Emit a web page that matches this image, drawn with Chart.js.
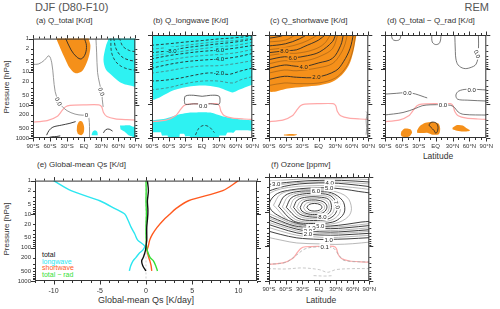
<!DOCTYPE html>
<html>
<head>
<meta charset="utf-8">
<script src="https://cdn.jsdelivr.net/npm/chart.js@4.4.0/dist/chart.umd.min.js"></script>
<style>
body { margin:0; background:#fff; width:500px; height:309px; overflow:hidden; position:relative; font-family:'Liberation Sans', Arial, sans-serif; }
canvas { position:absolute; }
.t { position:absolute; white-space:nowrap; color:#333; line-height:1; }
.c { transform:translate(-50%,-50%); }
.v { transform:translate(-50%,-50%) rotate(-90deg); }
</style>
</head>
<body>
<div class="t" style="left:35px;top:2px;font-size:11px;color:#555">DJF (D80-F10)</div>
<div class="t" style="right:11px;top:2px;font-size:11px;color:#555">REM</div>
<div class="t" style="left:36px;top:17px;font-size:8px">(a) Q_total [K/d]</div>
<div class="t" style="left:153px;top:17px;font-size:8px">(b) Q_longwave [K/d]</div>
<div class="t" style="left:270px;top:17px;font-size:8px">(c) Q_shortwave [K/d]</div>
<div class="t" style="left:387px;top:17px;font-size:8px">(d) Q_total − Q_rad [K/d]</div>
<div class="t" style="left:37px;top:161px;font-size:8px">(e) Global-mean Qs [K/d]</div>
<div class="t" style="left:271px;top:161px;font-size:8px">(f) Ozone [ppmv]</div>
<div class="t v" style="left:7px;top:87px;font-size:8px">Pressure [hPa]</div>
<div class="t v" style="left:7px;top:229px;font-size:8px">Pressure [hPa]</div>
<div class="t c" style="left:438px;top:156px;font-size:8.5px">Latitude</div>
<div class="t c" style="left:321px;top:300px;font-size:8.5px">Latitude</div>
<div class="t c" style="left:146px;top:300px;font-size:9px">Global-mean Qs [K/day]</div>
<div class="t" style="left:42px;top:251px;font-size:7px;color:#111">total</div>
<div class="t" style="left:42px;top:257.5px;font-size:7px;color:#2ce6f0">longwave</div>
<div class="t" style="left:42px;top:264px;font-size:7px;color:#ff5a1f">shortwave</div>
<div class="t" style="left:42px;top:270.5px;font-size:7px;color:#35e035">total − rad</div>
<script>
const FONT = "'Liberation Sans', Arial, sans-serif";
const ORANGE = '#f5901a', CYAN = '#2ef2f2', PINK = '#ffa8a8', DARK = '#2a2a2a', GRAY = '#8c8c8c';

// axes
const latTicks = [-90, -60, -30, 0, 30, 60, 90];
const latLabels = ['90°S', '60°S', '30°S', 'EQ', '30°N', '60°N', '90°N'];
const latMinor = [-80, -70, -50, -40, -20, -10, 10, 20, 40, 50, 70, 80];
const pTicks = [1, 2, 5, 10, 20, 50, 100, 200, 500, 1000];
const pMajor = [1, 10, 100, 1000];
const pMinor = [2, 3, 4, 5, 6, 7, 8, 9, 20, 30, 40, 50, 60, 70, 80, 90, 200, 300, 400, 500, 600, 700, 800, 900];
const qTicks = [-10, -5, 0, 5, 10];
const qMinor = [-12, -11, -9, -8, -7, -6, -4, -3, -2, -1, 1, 2, 3, 4, 6, 7, 8, 9, 11, 12];

// tropopause (pink), [lat, hPa]
const tropo = [[-92,335],[-65,300],[-47,220],[-39,150],[-33,115],[-25,103],[0,100],[26,100],[31,115],[34,170],[40,225],[55,265],[75,280],[92,288]];

// (a) Q_total
const aOrangeTop = [[-49,0.8],[-49,1],[-42,1.96],[-33,4.3],[-26,7.5],[-16,11],[-5,10],[2,6.7],[9,3.1],[11,1.6],[8,1],[8,0.8]];
const aOrangeLow = [[-13,600],[-12,400],[-8,310],[-3,330],[0,480],[-1,700],[-5,820],[-11,760]];
const aCyanTop = [[43,0.8],[43,1],[38,1.75],[34,4.3],[38,8.4],[49,13],[63,20.6],[75,24.7],[96,26],[96,0.8]];
const aCyanLow1 = [[13,820],[15,650],[19,580],[23,650],[24,820]];
const aCyanLow2 = [[63,420],[80,410],[86,460],[96,460],[96,1300],[87,1300],[85,900],[78,820],[71,640],[64,540]];
const aInner = [[-33,0.95],[-23,2.2],[-13,3.6],[-5,4.1],[2,2.9],[4,1.6],[0,0.95]];
const aZero1 = [[-92,6],[-80,5.8],[-70,4.5],[-62,3.3],[-57,5.4],[-54,15],[-51,40],[-45,79],[-39,110],[-30,150],[-16,190],[-2,205],[4,195]];
const aZero1b = [[6,195],[8.5,260],[9.4,450],[9.4,1100]];
const aZero2 = [[20.7,0.95],[22,2.7],[23.6,10.5],[27,22],[30.5,40],[32,70],[33,100],[33.5,115]];
const aLow1 = [[-66,820],[-62,600],[-55,470],[-40,410],[-25,360],[-15,320]];
const aLow2 = [[-63,980],[-57,920],[-48,900],[-42,860]];
const aLow3 = [[34,700],[38,560],[44,540],[50,620]];
const aDash1 = [[62,0.95],[68,1.7],[80,2.3],[92,2.5]];
const aDash2 = [[52,0.95],[56,2],[66,3.5],[80,4.5],[92,4.8]];
const aDash3 = [[47,0.95],[48,2.5],[55,4.8],[66,7],[80,8.5],[92,9]];
const aLabels = [[-45,79,'0.0',65],[30.5,40,'0.0',70],[4,195,'0',0]];

// (b) Q_longwave
const bCyanTop = [[-96,0.8],[96,0.8],[96,28],[90,28],[80,32],[65,40],[55,47],[45,42],[30,34],[10,30],[-10,30],[-30,33],[-50,40],[-65,52],[-80,70],[-90,80],[-96,80]];
const bCyanLow = [[-96,310],[-90,305],[-65,270],[-42,206],[-20,182],[0,178],[15,182],[35,228],[50,260],[70,290],[90,305],[96,305],[96,600],[60,600],[56,700],[45,700],[42,850],[31,850],[29,1300],[-20,1300],[-22,900],[-30,900],[-32,760],[-40,760],[-42,1300],[-60,1300],[-62,850],[-72,850],[-74,680],[-96,680]];
const bL10 = [[-92,2.0],[-60,1.8],[-30,1.6],[0,1.45],[30,1.3],[60,1.2],[92,1.05]];
const bL9 = [[-92,2.6],[-60,2.3],[-30,2.0],[0,1.75],[30,1.55],[60,1.45],[92,1.2]];
const bL8 = [[-92,3.3],[-55,2.8],[-30,2.35],[0,2.05],[30,1.8],[60,1.6],[92,1.3]];
const bL7 = [[-92,4.1],[-60,3.4],[-30,2.9],[0,2.5],[30,2.2],[60,2.0],[92,1.6]];
const bL6 = [[-92,5],[-60,4.0],[-30,3.4],[0,3.0],[30,2.75],[60,2.4],[92,2.0]];
const bL5 = [[-92,6.8],[-60,5.4],[-30,4.5],[0,4.0],[30,3.7],[60,3.3],[92,2.6]];
const bL4 = [[-92,9.4],[-60,7.2],[-30,6],[0,5.4],[30,5.0],[60,4.4],[92,3.4]];
const bL3 = [[-92,13],[-60,11],[-30,9],[0,8],[30,7.8],[60,6.8],[92,5.5]];
const bL2 = [[-92,22],[-70,21],[-40,18],[-13,14.7],[10,12.8],[30,13],[48,14],[68,11.3],[92,9]];
const bL1 = [[-92,40],[-60,34],[-30,26],[0,22],[30,22],[55,25],[70,20],[92,16]];
const bLoop = [[-32,80],[-30,60],[-15,57],[0,61],[15,57],[30,60],[32,80],[30,104],[15,101],[0,103],[-15,101],[-30,104],[-32,80]];
const bArc = [[-12,820],[-6,520],[3,430],[13,480],[22,700]];
const bLabels = [[-55,2.8,'-8.0'],[30,2.75,'-6.0'],[30,5.0,'-4.0'],[30,13,'-2.0'],[2,112,'0.0',0,'#fff']];

// (c) Q_shortwave
const cOrange = [[-96,0.8],[70,0.8],[68.5,1],[63,3],[55,7.5],[42,14.7],[25,23],[2,29],[-27,32],[-56,36],[-68,40],[-80,45],[-96,45]];
const c1 = [[-92,30],[-62,25],[-40,26],[0,25],[30,18],[47,10],[57,5],[64,2],[67,0.95]];
const c2 = [[-92,20],[-62,16],[-40,17],[-4,17],[31,11],[45,6],[57,2.45],[63,0.95]];
const c3 = [[-92,13],[-62,10.5],[-40,11],[0,9],[25,6.8],[40,3.5],[48,1.8],[52,0.95]];
const c4 = [[-92,9.5],[-62,7.5],[-45,8],[-27,8.3],[0,6.5],[25,4.8],[40,2],[45,0.95]];
const c5 = [[-92,7],[-62,5.6],[-45,6],[-20,5.5],[5,4],[25,2.5],[35,0.95]];
const c6 = [[-92,5.3],[-62,4.3],[-47,4.6],[-20,4],[2,3.1],[25,1.56],[31,0.95]];
const c7 = [[-92,4.0],[-62,3.4],[-40,3.4],[-10,2.7],[10,1.8],[22,0.95]];
const c8 = [[-92,3.3],[-62,2.9],[-40,2.7],[-27,2.2],[0,1.4],[13,0.95]];
const c9 = [[-92,2.7],[-60,2.3],[-30,1.7],[-10,1.2],[0,0.95]];
const c10 = [[-92,2.1],[-60,1.8],[-35,1.3],[-20,0.95]];
const c11 = [[-92,1.6],[-60,1.4],[-40,0.95]];
const c12 = [[-92,1.25],[-70,1.1],[-60,0.95]];
const cBlob = [[-63,790],[-50,760],[-39,790],[-45,860],[-63,850]];
const cRight = [[86,170],[88,190],[86,300],[87,500],[86,800]];
const cLabels = [[-62,2.9,'8.0'],[-47,4.6,'6.0'],[-27,8.3,'4.0'],[-4,17,'2.0']];

// (d) Q_total - Q_rad
const dB1 = [[-61,650],[-55,530],[-45,560],[-42,700],[-48,920],[-60,900],[-62,780]];
const dB2 = [[-33,600],[-28,450],[-18,360],[-5,340],[5,380],[8,520],[6,760],[-5,800],[-15,700],[-25,720],[-33,700]];
const dB3 = [[30,500],[38,420],[48,430],[55,520],[61,600],[50,650],[38,620],[30,560]];
const dInner = [[-12,420],[-8,350],[0,360],[4,450],[3,650],[0,720],[-3,600],[-8,500],[-12,420]];
const d1 = [[-78.6,0.95],[-77,1.3],[-72,1.45],[-64,1.35],[-61.4,0.95]];
const d2 = [[-7,0.95],[-6,1.6],[0,1.9],[7,1.7],[10,0.95]];
const d3 = [[34,0.95],[35,3],[36,5],[40,7.5],[50,9.4],[61,9],[72,7],[76,3.1],[76,0.95]];
const d4 = [[-92,53],[-70,50],[-55,48],[-41,50],[-30,56],[-20,64],[-15,68]];
const d5 = [[92,40],[56,38],[41,43],[36,56],[39,74],[56,79],[92,84]];
const d6 = [[-92,215],[-58,181],[-36,138],[-24,115],[-10,108],[13,108],[27,112],[34,132],[40,175],[50,205],[92,215]];
const dLabels = [[74,3.6,'0.0',70],[64,39,'0.0'],[-50,48,'0.0'],[13,108,'0.0']];

// (e) global-mean profiles
const eP = [1, 2, 4, 7, 10, 15, 25, 40, 60, 90, 120, 150, 200, 250, 350, 500];
const eLong = [-10, -8.1, -5.0, -3.3, -2.3, -1.95, -1.6, -1.2, -0.9, -0.15, -0.35, -0.75, -1.1, -1.4, -1.65, -1.8];
const eShort = [10, 8.3, 4.6, 3.2, 2.6, 1.9, 1.2, 0.7, 0.4, 0.25, 0.12, 0.18, 0.3, 0.42, 0.55, 0.62];
const eTotal = [0.15, 0.26, 0.15, 0.2, 0.2, 0.15, 0.08, 0.08, 0.08, 0.0, -0.05, -0.15, -0.3, -0.47, -0.35, 0.0];
const eRes = [0.0, 0.02, 0.0, 0.03, 0.05, 0.02, 0.0, 0.0, 0.02, 0.05, 0.12, 0.25, 0.45, 0.8, 1.05, 1.24];

// (f) ozone contours
const o10 = [[-22,7.5],[-18,6.2],[-8,5.8],[2,6.3],[5,7.5],[1,9],[-8,9.6],[-18,9],[-22,7.5]];
const o95 = [[-28,7.5],[-23,5.7],[-10,5.2],[2,5.5],[9,6.6],[9,8.4],[0,10.4],[-12,10.8],[-24,9.6],[-28,7.5]];
const o9 = [[-34,7.5],[-28,5.2],[-14,4.6],[2,4.8],[11,5.7],[14,7.5],[9,10.2],[-4,12],[-20,11.6],[-31,9.6],[-34,7.5]];
const o85 = [[-40,7.5],[-33,4.9],[-18,4.2],[2,4.2],[14,5.0],[18,7.2],[14,10.6],[2,13],[-16,13],[-33,10.5],[-40,7.5]];
const o8 = [[-46,7.5],[-39,4.6],[-22,3.8],[0,3.8],[17,4.4],[22,6.8],[19,10.5],[6,13.8],[-12,14.3],[-34,12],[-46,7.5]];
const o75 = [[-52,7.5],[-45,4.3],[-26,3.4],[0,3.4],[19,3.9],[27,6.5],[24,11],[11,15],[-11,16],[-36,13.5],[-52,7.5]];
const o7 = [[-59,7.5],[-50,4.0],[-30,3.1],[0,3.0],[21,3.5],[32,6.4],[29,11.5],[15,16.5],[-10,18],[-38,15.5],[-59,7.5]];
const o65 = [[-66,7.3],[-56,3.7],[-35,2.85],[-4,2.75],[22,3.1],[37,5.8],[36,11.5],[20,18],[-10,20],[-42,17],[-66,7.3]];
const o6 = [[-73,7],[-62,3.5],[-40,2.65],[-8,2.55],[22,2.85],[42,4.8],[46,9],[40,14],[24,20],[-10,22],[-46,18.5],[-73,7]];
const o55 = [[-82,6.5],[-70,3.2],[-45,2.4],[-10,2.3],[25,2.55],[50,3.8],[58,8],[52,14],[30,21.5],[-10,24],[-50,20],[-82,6.5]];
const o5 = [[92,2.9],[70,2.6],[45,2.25],[15,2.05],[-20,2.1],[-50,2.35],[-75,3.0],[-88,5],[-88,8],[-75,12.5],[-45,20.5],[-10,26],[20,26],[50,23],[75,20],[92,19]];
const o45u = [[92,2.3],[60,2.0],[20,1.78],[-20,1.8],[-55,2.0],[-80,2.5],[-92,3.2]];
const o45l = [[-92,11],[-75,14.5],[-45,23],[-10,27.5],[20,28],[50,26],[92,22]];
const o4u = [[92,1.9],[50,1.6],[19,1.48],[-20,1.52],[-50,1.7],[-75,2.1],[-92,2.6]];
const o4l = [[-92,13],[-75,17],[-45,25.5],[-14,29],[20,31],[50,29],[92,25]];
const o35u = [[92,1.6],[40,1.4],[0,1.38],[-40,1.45],[-92,1.9]];
const o35l = [[-92,15],[-70,20],[-40,29],[-15,32.5],[20,35],[50,33],[92,29]];
const o3u = [[92,1.4],[40,1.25],[0,1.25],[-40,1.35],[-77,1.55],[-92,1.65]];
const o3l = [[-92,17],[-70,23],[-40,32],[-20,36],[20,39],[50,37],[92,33]];
const o25u = [[92,1.18],[0,1.1],[-92,1.3]];
const o25l = [[-92,20],[-70,26],[-40,36],[-20,40],[20,43],[50,41],[92,37]];
const o2 = [[-92,23],[-70,30],[-40,41],[-20,45],[20,48],[50,46],[92,42]];
const o15 = [[-92,28],[-70,36],[-40,48],[-10,53],[20,56],[50,53],[92,48]];
const o1 = [[-92,36],[-70,45],[-40,57],[0,63],[17,63],[50,61],[92,56]];
const o05 = [[-92,55],[-65,68],[-40,80],[0,85],[30,88],[60,84],[92,75]];
const o01 = [[-92,330],[-60,290],[-40,175],[-25,118],[0,103],[25,112],[35,175],[45,255],[92,285]];
const oLow = [[-92,440],[-60,450],[-30,420],[0,470],[15,560],[30,470],[60,440],[92,440]];
const oLow2 = [[-10,700],[10,720],[25,700]];
const fLabels = [[-77,1.6,'3.0'],[19,1.48,'4.0'],[18,2.06,'5.0'],[-6,2.55,'6.0'],[32,6.4,'7.0',70],[6,14,'8.0'],[2,25.8,'5.0'],[-14,29,'4.0'],[-20,36,'3.0'],[-20,45,'2.0'],[17,63,'1.0'],[10,103,'0.1']];

const xy = pts => pts.map(([x, y]) => ({x, y}));
const fillSet = (pts, color, t) => ({data: xy(pts), fill: 'shape', backgroundColor: color, borderColor: color, borderWidth: 0, tension: t === undefined ? 0.3 : t, order: 3});
const lineSet = (pts, color, w, dash, order) => ({data: xy(pts), fill: false, borderColor: color, borderWidth: w, borderDash: dash || [], tension: 0.35, order: order || 1});
const tropoSet = () => ({data: xy(tropo), fill: false, borderColor: PINK, borderWidth: 1.2, tension: 0.2, order: 2});
const profile = (vals, color) => ({data: eP.map((p, i) => ({x: vals[i], y: p})), fill: false, borderColor: color, borderWidth: 1.4, tension: 0.3, order: 1});

const framePlugin = {
  id: 'frame',
  afterDraw(chart, args, o) {
    const {ctx, chartArea: a, scales: {x, y}} = chart;
    ctx.save();
    ctx.strokeStyle = '#333';
    ctx.lineWidth = 1;
    ctx.strokeRect(a.left + 0.5, a.top + 0.5, a.right - a.left - 1, a.bottom - a.top - 1);
    ctx.beginPath();
    const xt = (vals, len) => vals.forEach(v => {
      const px = Math.round(x.getPixelForValue(v)) + 0.5;
      ctx.moveTo(px, a.bottom); ctx.lineTo(px, a.bottom + len);
      ctx.moveTo(px, a.top); ctx.lineTo(px, a.top - len);
    });
    const yt = (vals, len) => vals.forEach(v => {
      const py = Math.round(y.getPixelForValue(v)) + 0.5;
      ctx.moveTo(a.left, py); ctx.lineTo(a.left - len, py);
      ctx.moveTo(a.right, py); ctx.lineTo(a.right + len, py);
    });
    xt(o.xMajor, 3.5); xt(o.xMinor, 2);
    yt(pMajor, 4); yt(pMinor, 2);
    ctx.stroke();
    ctx.restore();
  }
};

const labelPlugin = {
  id: 'clabels',
  afterDatasetsDraw(chart, args, o) {
    if (!o.items) return;
    const {ctx, scales: {x, y}} = chart;
    ctx.save();
    ctx.font = '6px ' + FONT;
    ctx.textAlign = 'center';
    ctx.textBaseline = 'middle';
    o.items.forEach(([lat, p, txt, rot, bg]) => {
      ctx.save();
      ctx.translate(x.getPixelForValue(lat), y.getPixelForValue(p));
      if (rot) ctx.rotate(rot * Math.PI / 180);
      const w = ctx.measureText(txt).width + 2;
      ctx.fillStyle = bg || o.bg || '#fff';
      ctx.fillRect(-w / 2, -3.5, w, 7);
      ctx.fillStyle = o.color || '#222';
      ctx.fillText(txt, 0, 0.5);
      ctx.restore();
    });
    ctx.restore();
  }
};

function panel(box, datasets, o) {
  const c = document.createElement('canvas');
  c.width = box[2] + 38;
  c.height = box[3] + 22;
  c.style.left = (box[0] - 30) + 'px';
  c.style.top = (box[1] - 4) + 'px';
  document.body.appendChild(c);
  return new Chart(c, {
    type: 'line',
    data: {datasets},
    options: {
      responsive: false, animation: false, events: [],
      layout: {padding: {left: 0, right: 8, top: 4, bottom: 0}},
      elements: {point: {radius: 0}, line: {capBezierPoints: false}},
      plugins: {
        legend: {display: false}, tooltip: {enabled: false},
        frame: o.frame, clabels: o.labels || {}
      },
      scales: {
        x: {
          type: 'linear', min: o.xMin, max: o.xMax,
          afterBuildTicks: s => { s.ticks = o.xTicks.map(v => ({value: v})); },
          afterFit: s => { s.height = 18; },
          grid: {display: false, drawTicks: false}, border: {display: false},
          ticks: {padding: o.xPad, maxRotation: 0, autoSkip: false, color: '#333',
                  font: {size: o.xFont, family: FONT}, callback: o.xFmt}
        },
        y: {
          type: 'logarithmic', reverse: true, min: 1, max: 1000,
          afterBuildTicks: s => { s.ticks = pTicks.map(v => ({value: v})); },
          afterFit: s => { s.width = 30; },
          grid: {display: false, drawTicks: false}, border: {display: false},
          ticks: {display: !!o.yLabels, padding: 4, color: '#333',
                  font: {size: 6, family: FONT}, callback: v => String(v)}
        }
      }
    },
    plugins: [framePlugin, labelPlugin]
  });
}

const latFmt = v => latLabels[latTicks.indexOf(v)];
const latOpts = (yLabels, labels) => ({
  xMin: -90, xMax: 90, xTicks: latTicks, xFmt: latFmt, xPad: 5, xFont: 6,
  yLabels, labels, frame: {xMajor: latTicks, xMinor: latMinor}
});

panel([33, 35, 106, 103], [
  lineSet(aInner, DARK, 0.9), lineSet(aZero1, GRAY, 0.9), lineSet(aZero1b, GRAY, 0.9),
  lineSet(aZero2, GRAY, 0.9), lineSet(aLow1, DARK, 0.9), lineSet(aLow2, DARK, 0.9), lineSet(aLow3, DARK, 0.9),
  lineSet(aDash1, DARK, 0.8, [3, 2]), lineSet(aDash2, DARK, 0.9, [3, 2]), lineSet(aDash3, DARK, 0.8, [3, 2]),
  tropoSet(),
  fillSet(aOrangeTop, ORANGE), fillSet(aOrangeLow, ORANGE), fillSet(aCyanTop, CYAN),
  fillSet(aCyanLow1, CYAN), fillSet(aCyanLow2, CYAN, 0.1)
], latOpts(true, {items: aLabels}));

panel([152, 35, 104, 103], [
  lineSet(bL10, DARK, 0.9, [3, 2]), lineSet(bL9, '#555', 0.6, [3, 2]), lineSet(bL8, DARK, 0.9, [3, 2]),
  lineSet(bL7, '#555', 0.6, [3, 2]), lineSet(bL6, DARK, 0.9, [3, 2]), lineSet(bL5, '#555', 0.6, [3, 2]),
  lineSet(bL4, DARK, 0.9, [3, 2]), lineSet(bL3, '#555', 0.6, [3, 2]), lineSet(bL2, DARK, 0.9, [3, 2]),
  lineSet(bL1, '#555', 0.6, [3, 2]), lineSet(bLoop, '#555', 0.9), lineSet(bArc, DARK, 0.8, [3, 2]),
  tropoSet(),
  fillSet(bCyanTop, CYAN), fillSet(bCyanLow, CYAN, 0.1)
], latOpts(false, {items: bLabels, bg: CYAN}));

const cThin = 'rgba(70,45,20,0.55)';
panel([269, 35, 103, 103], [
  lineSet(c1, cThin, 0.6), lineSet(c2, DARK, 0.9), lineSet(c3, cThin, 0.6), lineSet(c4, DARK, 0.9),
  lineSet(c5, cThin, 0.6), lineSet(c6, DARK, 0.9), lineSet(c7, cThin, 0.6), lineSet(c8, DARK, 0.9),
  lineSet(c9, cThin, 0.6), lineSet(c10, DARK, 0.9), lineSet(c11, cThin, 0.6), lineSet(c12, DARK, 0.9),
  lineSet(cRight, GRAY, 0.8),
  tropoSet(),
  fillSet(cOrange, ORANGE), fillSet(cBlob, ORANGE)
], latOpts(false, {items: cLabels, bg: ORANGE}));

panel([385, 35, 105, 103], [
  lineSet(dInner, DARK, 0.9), lineSet(d1, '#555', 0.8), lineSet(d2, '#555', 0.8), lineSet(d3, '#555', 0.8),
  lineSet(d4, '#555', 0.8), lineSet(d5, '#555', 0.8), lineSet(d6, '#555', 0.8),
  tropoSet(),
  fillSet(dB1, ORANGE), fillSet(dB2, ORANGE), fillSet(dB3, ORANGE)
], latOpts(false, {items: dLabels}));

panel([35, 177, 222, 104], [
  profile(eTotal, '#111'), profile(eRes, '#35e035'), profile(eShort, '#ff5a1f'), profile(eLong, '#2ce6f0'),
  lineSet([[0, 1], [0, 1000]], '#c8c8c8', 0.8, [2, 2], 2)
], {
  xMin: -12, xMax: 12, xTicks: qTicks, xFmt: v => String(v), xPad: 6, xFont: 7,
  yLabels: true, frame: {xMajor: qTicks, xMinor: qMinor}
});

const oThin = '#9a9a9a';
panel([269, 177, 104, 104], [
  lineSet(o10, DARK, 0.9), lineSet(o95, oThin, 0.7), lineSet(o9, DARK, 0.9), lineSet(o85, oThin, 0.7),
  lineSet(o8, DARK, 0.9), lineSet(o75, oThin, 0.7), lineSet(o7, DARK, 0.9), lineSet(o65, oThin, 0.7),
  lineSet(o6, DARK, 0.9), lineSet(o55, oThin, 0.7), lineSet(o5, DARK, 0.9),
  lineSet(o45u, oThin, 0.7), lineSet(o45l, oThin, 0.7), lineSet(o4u, DARK, 0.9), lineSet(o4l, DARK, 0.9),
  lineSet(o35u, oThin, 0.7), lineSet(o35l, oThin, 0.7), lineSet(o3u, DARK, 0.9), lineSet(o3l, DARK, 0.9),
  lineSet(o25u, oThin, 0.7), lineSet(o25l, oThin, 0.7), lineSet(o2, DARK, 0.9), lineSet(o15, oThin, 0.7),
  lineSet(o1, DARK, 0.9), lineSet(o05, oThin, 0.7),
  lineSet(o01, '#aaa', 0.8, [3, 2]), lineSet(oLow, '#bbb', 0.8, [3, 2]), lineSet(oLow2, '#bbb', 0.8, [3, 2]),
  tropoSet()
], latOpts(false, {items: fLabels}));
</script>
</body>
</html>
